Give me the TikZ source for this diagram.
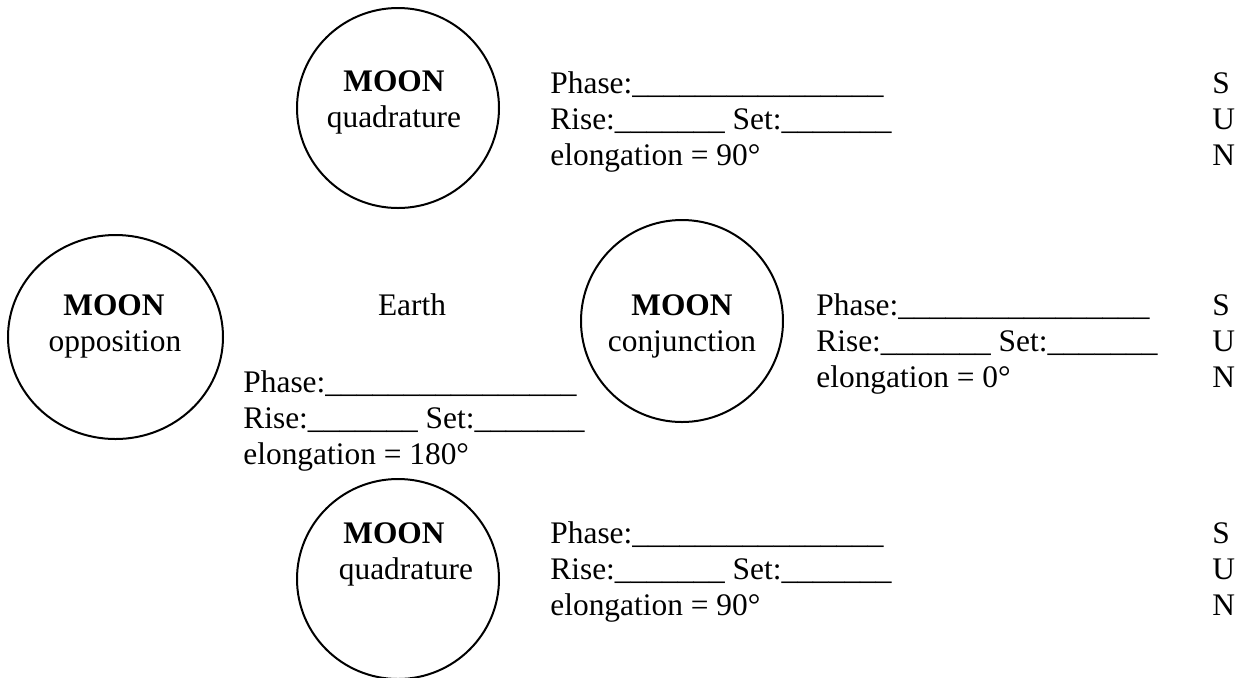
\documentclass[tikz,border=0pt]{standalone}
\usepackage{fontspec}
\setmainfont{Liberation Serif}
\usetikzlibrary{positioning,shapes.geometric}

\tikzset{
  moon/.style={draw, ellipse, line width=1pt, inner sep=0pt},
  txt/.style={inner sep=0pt, anchor=base west, font=\fontsize{15.7}{18}\selectfont},
  ctxt/.style={inner sep=0pt, anchor=base, font=\fontsize{15.7}{18}\selectfont}
}
\newcommand{\fillin}[1]{\foreach \k in {1,...,#1}{\_}}

\begin{document}
\begin{tikzpicture}[x=0.5pt, y=-0.5pt]
        % Frame
        \fill[white] (0,0) rectangle (1244,677);
        \useasboundingbox (0,0) rectangle (1244,677);
        % Moon positions
        \node[moon, minimum width=101pt, minimum height=100pt] (quadTop) at (398,108) {};
        \node[moon, minimum width=107.5pt, minimum height=102pt] (oppo) at (115.5,337) {};
        \node[moon, minimum width=101pt, minimum height=101pt] (conj) at (682,321) {};
        \node[moon, minimum width=101pt, minimum height=100pt] (quadBot) at (398,579) {};
        % Labels in the moons
        \node[ctxt, font=\fontsize{15.7}{18}\selectfont\bfseries] (quadTopA) at (394,91) {MOON};
        \node[ctxt] (quadTopB) at (394,127) {quadrature};
        \node[ctxt, font=\fontsize{15.7}{18}\selectfont\bfseries] (oppoA) at (114,315) {MOON};
        \node[ctxt] (oppoB) at (115,351) {opposition};
        \node[ctxt, font=\fontsize{15.7}{18}\selectfont\bfseries] (conjA) at (682,315) {MOON};
        \node[ctxt] (conjB) at (682,351) {conjunction};
        \node[ctxt, font=\fontsize{15.7}{18}\selectfont\bfseries] (quadBotA) at (394,543) {MOON};
        \node[ctxt] (quadBotB) at (406,579) {quadrature};
        % Earth
        \node[ctxt] (earth) at (412,315) {Earth};
        % Fill-in lines
        \node[txt] (phaseTop) at (550,93) {Phase:\fillin{16}};
        \node[txt] (riseTop) at (550,129) {Rise:\fillin{7} Set:\fillin{7}};
        \node[txt] (elongTop) at (550,165) {elongation = 90°};
        \node[txt] (phaseConj) at (816,315) {Phase:\fillin{16}};
        \node[txt] (riseConj) at (816,351) {Rise:\fillin{7} Set:\fillin{7}};
        \node[txt] (elongConj) at (816,387) {elongation = 0°};
        \node[txt] (phaseOppo) at (243,392) {Phase:\fillin{16}};
        \node[txt] (riseOppo) at (243,428) {Rise:\fillin{7} Set:\fillin{7}};
        \node[txt] (elongOppo) at (243,464) {elongation = 180°};
        \node[txt] (phaseBot) at (550,543) {Phase:\fillin{16}};
        \node[txt] (riseBot) at (550,579) {Rise:\fillin{7} Set:\fillin{7}};
        \node[txt] (elongBot) at (550,615) {elongation = 90°};
        % SUN down the right side
        \foreach \y [count=\i] in {93,315,543} {
          \node[txt] (sunS\i) at (1212,\y) {S};
          \node[txt] (sunU\i) at (1212,\y+36) {U};
          \node[txt] (sunN\i) at (1212,\y+72) {N};
        }
      \end{tikzpicture}
\end{document}
